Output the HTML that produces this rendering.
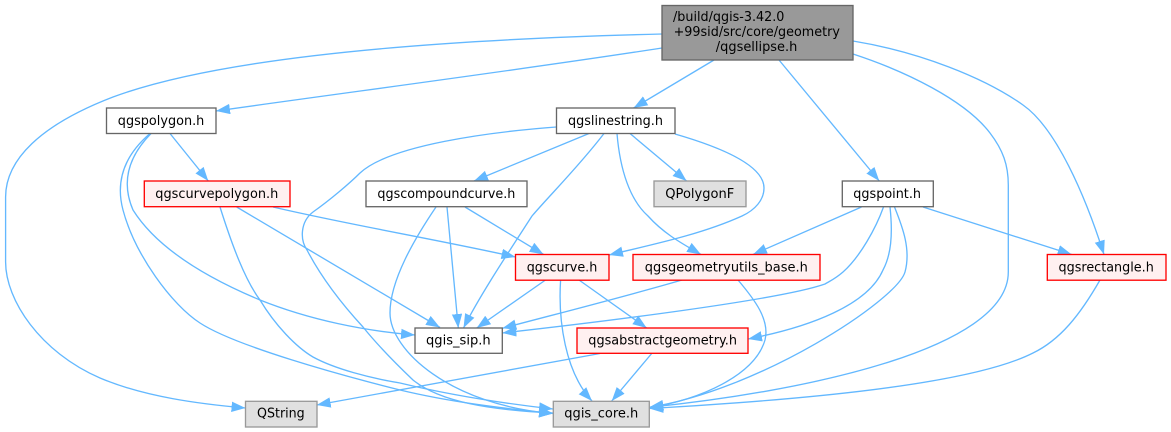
<!DOCTYPE html>
<html><head><meta charset="utf-8"><style>
html,body{margin:0;padding:0;background:#fff;width:1171px;height:432px;overflow:hidden}
svg{display:block}
text{font-family:"DejaVu Sans",sans-serif;font-size:13px;fill:#000}
.e path{fill:none;stroke:#63b8ff;stroke-width:1.33;marker-end:url(#a)}
.n rect{stroke:#666;stroke-width:1.33;fill:#fff}
.n rect.g{stroke:#999;fill:#e0e0e0}
.n rect.r{stroke:#ff0000;fill:#fff0f0}
</style></head><body>
<svg width="1171" height="432" viewBox="0 0 1171 432" xmlns="http://www.w3.org/2000/svg">
<defs><marker id="a" markerUnits="userSpaceOnUse" markerWidth="15" markerHeight="11" refX="14" refY="5.2" orient="auto"><polygon points="0,0 14,5.2 0,10.4" fill="#63b8ff"/></marker></defs>
<g class="e">
<path d="M662,34 C500,38 240,50 113,97 C40,125 5.6,160 5.6,197 L5.6,262 C5.6,300 40,352 100,378 C145,397 200,404 245.5,408"/>
<path d="M662,48 C520,70 350,92 216,111"/>
<path d="M714,60 L633.6,108"/>
<path d="M779,60 L879.3,181"/>
<path d="M853,54 C905,71 965,100 990,133 C1003,150 1008.3,165 1008.3,185 L1008.3,272 C1008.3,350 800,392 649.3,407.3"/>
<path d="M853,41 C920,52 985,78 1023,105 C1056,128 1085,195 1104,254.5"/>
<path d="M170,133.5 L208.3,181"/>
<path d="M151,133.5 C130,155 120,180 133,210 C155,245 200,275 260,300 C310,320 365,331 415,335"/>
<path d="M150,133.5 C125,155 115,180 123,210 C135,255 172,305 200,323 C235,346 340,375 400,390 C450,402 500,408 553,413.5"/>
<path d="M589,133.5 L474,181"/>
<path d="M630,133.5 L686.6,181"/>
<path d="M675,134 C720,147 764,165 764,188 C764,200 755,210 742,216 C700,235 650,245 609,255"/>
<path d="M617,133.5 C620,170 630,200 648,216 C665,235 685,245 701,254.5"/>
<path d="M604,133.5 C580,165 550,195 532,216 C510,250 480,295 463.5,328"/>
<path d="M556.5,127 C490,132 390,145 360,173 C350,183 330,200 313,212 C300,222 300,240 307,250 C320,275 340,302 363,327 C375,342 390,358 413,380 C440,402 490,410 553,413"/>
<path d="M273,207 C350,225 440,240 515.5,257"/>
<path d="M236.7,207 L440,327.5"/>
<path d="M220,207 C232,245 245,280 260,300 C275,325 296,347 313,357 C335,369 370,378 400,383 C450,395 500,403 553,409"/>
<path d="M465,207 L543.6,254.5"/>
<path d="M447,207 L458.3,328"/>
<path d="M436,207 C415,238 390,280 390,313 C390,350 450,405 553,413.5"/>
<path d="M545.5,280 L476.7,328"/>
<path d="M560.6,280 C558,320 565,372 592,401"/>
<path d="M579,280 L646.7,328"/>
<path d="M682,280 C620,298 560,313 502.3,328.3"/>
<path d="M738,280 C755,300 770,320 765,340 C755,375 700,400 649.3,407.5"/>
<path d="M861.5,207 L753,254.5"/>
<path d="M923,207 L1071.7,254.5"/>
<path d="M883.5,207 C876,228 860,257 843,272 C835,279 830,281 825,284 C780,300 600,322 502.3,333"/>
<path d="M890,207 C893,235 891,255 883,270 C868,305 810,327 748,339"/>
<path d="M894.5,207 C903,228 911,250 905,272 C897,300 760,390 649.3,407.3"/>
<path d="M600,353.5 L316.7,405"/>
<path d="M651.7,353.5 L611.7,401"/>
<path d="M1100,280 C1080,315 1060,340 1033,353 C970,385 800,400 649.3,408.5"/>
</g>
<g class="n">
<rect x="662" y="5.5" width="191" height="54.5" style="fill:#999"/>
<text x="673" y="21" textLength="111.4" lengthAdjust="spacingAndGlyphs">/build/qgis-3.42.0</text>
<text x="673.6" y="36" textLength="166.3" lengthAdjust="spacingAndGlyphs">+99sid/src/core/geometry</text>
<text x="715.8" y="51" textLength="81.5" lengthAdjust="spacingAndGlyphs">/qgsellipse.h</text>
<rect x="106.5" y="108" width="109.5" height="25.5"/><text x="117.8" y="124.8" textLength="86.5" lengthAdjust="spacingAndGlyphs">qgspolygon.h</text>
<rect x="556.5" y="108" width="118.5" height="25.5"/><text x="568" y="124.8" textLength="95" lengthAdjust="spacingAndGlyphs">qgslinestring.h</text>
<rect class="r" x="144.3" y="181" width="145.7" height="25.7"/><text x="155.3" y="198" textLength="123" lengthAdjust="spacingAndGlyphs">qgscurvepolygon.h</text>
<rect x="366" y="181" width="161" height="25.7"/><text x="377.4" y="198" textLength="138" lengthAdjust="spacingAndGlyphs">qgscompoundcurve.h</text>
<rect class="g" x="654" y="181" width="92" height="25.7"/><text x="665.3" y="198" textLength="69" lengthAdjust="spacingAndGlyphs">QPolygonF</text>
<rect x="842.3" y="181" width="91" height="25.7"/><text x="853.3" y="198" textLength="67.7" lengthAdjust="spacingAndGlyphs">qgspoint.h</text>
<rect class="r" x="515.5" y="254.5" width="93.5" height="25.7"/><text x="526.7" y="271.5" textLength="70.6" lengthAdjust="spacingAndGlyphs">qgscurve.h</text>
<rect class="r" x="633" y="254.5" width="187" height="25.7"/><text x="644.8" y="271.5" textLength="163" lengthAdjust="spacingAndGlyphs">qgsgeometryutils_base.h</text>
<rect class="r" x="1047.3" y="254.5" width="118.7" height="25.7"/><text x="1058.5" y="271.5" textLength="95.3" lengthAdjust="spacingAndGlyphs">qgsrectangle.h</text>
<rect x="415" y="328" width="87.3" height="25.3"/><text x="426" y="344.5" textLength="64.7" lengthAdjust="spacingAndGlyphs">qgis_sip.h</text>
<rect class="r" x="577" y="328" width="171" height="25.3"/><text x="588.3" y="344.5" textLength="148.7" lengthAdjust="spacingAndGlyphs">qgsabstractgeometry.h</text>
<rect class="g" x="245.5" y="401.3" width="71.5" height="25.7"/><text x="257" y="417.5" textLength="47.7" lengthAdjust="spacingAndGlyphs">QString</text>
<rect class="g" x="553.3" y="401.3" width="96" height="25.7"/><text x="564.3" y="417.5" textLength="74" lengthAdjust="spacingAndGlyphs">qgis_core.h</text>
</g>
</svg>
</body></html>
